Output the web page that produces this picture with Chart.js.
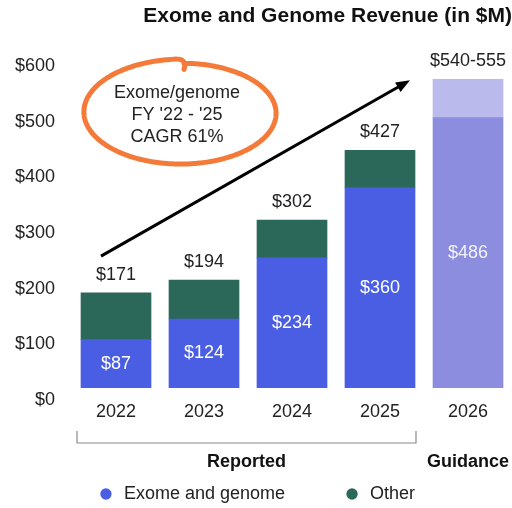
<!DOCTYPE html>
<html>
<head>
<meta charset="utf-8">
<script src="https://cdn.jsdelivr.net/npm/chart.js@4.4.1/dist/chart.umd.min.js"></script>
<style>
  html, body { margin: 0; padding: 0; background: #fff; }
</style>
</head>
<body>
<canvas id="grafico" width="512" height="508"></canvas>
<script>
const anos = ["2022", "2023", "2024", "2025", "2026"];
const exomaGenoma = [87, 124, 234, 360, null];
const outros = [84, 70, 68, 67, null];
const guiaBase = [null, null, null, null, 486];
const guiaFaixa = [null, null, null, null, 69];
const rotulosTotal = ["$171", "$194", "$302", "$427", "$540-555"];
const rotulosInternos = ["$87", "$124", "$234", "$360", "$486"];

const fonte = "'Liberation Sans', Arial, sans-serif";
const azul = "rgb(74, 94, 228)";
const verde = "rgb(44, 104, 90)";
const lilas = "rgb(140, 141, 223)";
const lilasClaro = "rgb(186, 186, 236)";

// rótulos, seta, círculo e chave
const extras = {
  id: "extras",
  afterDatasetsDraw(chart) {
    const ctx = chart.ctx;
    const y = chart.scales.y;
    const area = chart.chartArea;
    const m0 = chart.getDatasetMeta(0).data;
    const m1 = chart.getDatasetMeta(1).data;
    const m2 = chart.getDatasetMeta(2).data;
    const m3 = chart.getDatasetMeta(3).data;

    ctx.save();
    ctx.font = "18px " + fonte;
    ctx.textAlign = "center";
    ctx.textBaseline = "middle";
    anos.forEach((ano, i) => {
      const topo = i < 4 ? m1[i] : m3[i];
      const base = i < 4 ? m0[i] : m2[i];
      ctx.fillStyle = "#222";
      ctx.fillText(rotulosTotal[i], topo.x, topo.y - 18);
      ctx.fillStyle = i < 4 ? "#fff" : "#f2f2fb";
      ctx.fillText(rotulosInternos[i], base.x, (base.y + base.base) / 2);
    });

    // seta de crescimento
    const x0 = m0[0].x - 15, y0 = y.getPixelForValue(237);
    const x1 = (m0[3].x + m2[4].x) / 2 - 14, y1 = y.getPixelForValue(553);
    const ang = Math.atan2(y1 - y0, x1 - x0);
    ctx.strokeStyle = "#000";
    ctx.fillStyle = "#000";
    ctx.lineWidth = 3;
    ctx.beginPath();
    ctx.moveTo(x0, y0);
    ctx.lineTo(x1 - 10 * Math.cos(ang), y1 - 10 * Math.sin(ang));
    ctx.stroke();
    ctx.beginPath();
    ctx.moveTo(x1, y1);
    ctx.lineTo(x1 - 14 * Math.cos(ang) + 5.5 * Math.sin(ang), y1 - 14 * Math.sin(ang) - 5.5 * Math.cos(ang));
    ctx.lineTo(x1 - 14 * Math.cos(ang) - 5.5 * Math.sin(ang), y1 - 14 * Math.sin(ang) + 5.5 * Math.cos(ang));
    ctx.closePath();
    ctx.fill();

    // círculo laranja, traço feito à mão
    const cx = (m0[0].x + m0[1].x) / 2 + 22;
    const cy = y.getPixelForValue(495);
    ctx.strokeStyle = "rgb(244, 122, 58)";
    ctx.lineWidth = 5;
    ctx.lineCap = "round";
    ctx.lineJoin = "round";
    ctx.beginPath();
    const a0 = -Math.PI / 2 + 0.02;
    const voltas = Math.PI * 2 - 0.12;
    for (let t = 0; t <= voltas; t += 0.02) {
      const k = 0.93 + 0.08 * (t / voltas);
      const px = cx + 99 * k * Math.cos(a0 + t);
      const py = cy + 53 * k * Math.sin(a0 + t);
      if (t === 0) ctx.moveTo(px, py); else ctx.lineTo(px, py);
    }
    const fimX = cx + 99 * 1.01 * Math.cos(a0 + voltas);
    const fimY = cy + 53 * 1.01 * Math.sin(a0 + voltas);
    ctx.quadraticCurveTo(fimX + 16, fimY - 2, fimX + 12, fimY + 10);
    ctx.stroke();
    ctx.fillStyle = "#222";
    ctx.font = "18px " + fonte;
    ctx.fillText("Exome/genome", cx - 5, cy - 20);
    ctx.fillText("FY '22 - '25", cx - 5, cy + 2);
    ctx.fillText("CAGR 61%", cx - 5, cy + 24);

    // chave "Reported" / "Guidance"
    const bx0 = m0[0].x - m0[0].width / 2 - 4;
    const bx1 = m0[3].x + m0[3].width / 2 + 1;
    const by = area.bottom + 55;
    ctx.strokeStyle = "#8a8a8a";
    ctx.lineWidth = 1.2;
    ctx.lineCap = "butt";
    ctx.beginPath();
    ctx.moveTo(bx0, by - 12);
    ctx.lineTo(bx0, by);
    ctx.lineTo(bx1, by);
    ctx.lineTo(bx1, by - 12);
    ctx.stroke();
    ctx.fillStyle = "#111";
    ctx.font = "bold 18px " + fonte;
    ctx.fillText("Reported", (bx0 + bx1) / 2, area.bottom + 74);
    ctx.fillText("Guidance", m2[4].x, area.bottom + 74);
    ctx.restore();
  },
};

const grafico = new Chart(document.getElementById("grafico").getContext("2d"), {
  type: "bar",
  data: {
    labels: anos,
    datasets: [
      { label: "Exome and genome", data: exomaGenoma, backgroundColor: azul, stack: "s" },
      { label: "Other", data: outros, backgroundColor: verde, stack: "s" },
      { label: "Guidance", data: guiaBase, backgroundColor: lilas, stack: "s" },
      { label: "Guidance range", data: guiaFaixa, backgroundColor: lilasClaro, stack: "s" },
    ],
  },
  options: {
    responsive: false,
    animation: false,
    devicePixelRatio: 1,
    layout: { padding: { left: 0, right: 0, top: 0, bottom: -5 } },
    datasets: { bar: { barThickness: 70, borderWidth: 0 } },
    scales: {
      x: {
        stacked: true,
        grid: { display: false, drawTicks: false },
        border: { display: false },
        ticks: { padding: 13, color: "#222", font: { family: fonte, size: 18 } },
        afterFit: (s) => { s.height = 39; },
      },
      y: {
        stacked: true,
        min: 0,
        max: 600,
        grid: { display: false, drawTicks: false },
        border: { display: false },
        ticks: {
          stepSize: 100,
          padding: 17,
          labelOffset: 12,
          color: "#222",
          font: { family: fonte, size: 18 },
          callback: (v) => "$" + v,
        },
        afterFit: (s) => { s.width = 72; },
      },
    },
    plugins: {
      title: {
        display: true,
        text: "Exome and Genome Revenue (in $M)",
        align: "end",
        color: "#111",
        font: { family: fonte, size: 21, weight: "bold" },
        padding: { top: 4, bottom: 25 },
      },
      legend: {
        position: "bottom",
        labels: {
          usePointStyle: true,
          pointStyle: "circle",
          boxWidth: 18,
          boxHeight: 8,
          padding: 58,
          color: "#222",
          font: { family: fonte, size: 18 },
          filter: (item) => item.datasetIndex < 2,
        },
      },
      tooltip: { enabled: false },
    },
  },
  plugins: [extras],
});
</script>
</body>
</html>
